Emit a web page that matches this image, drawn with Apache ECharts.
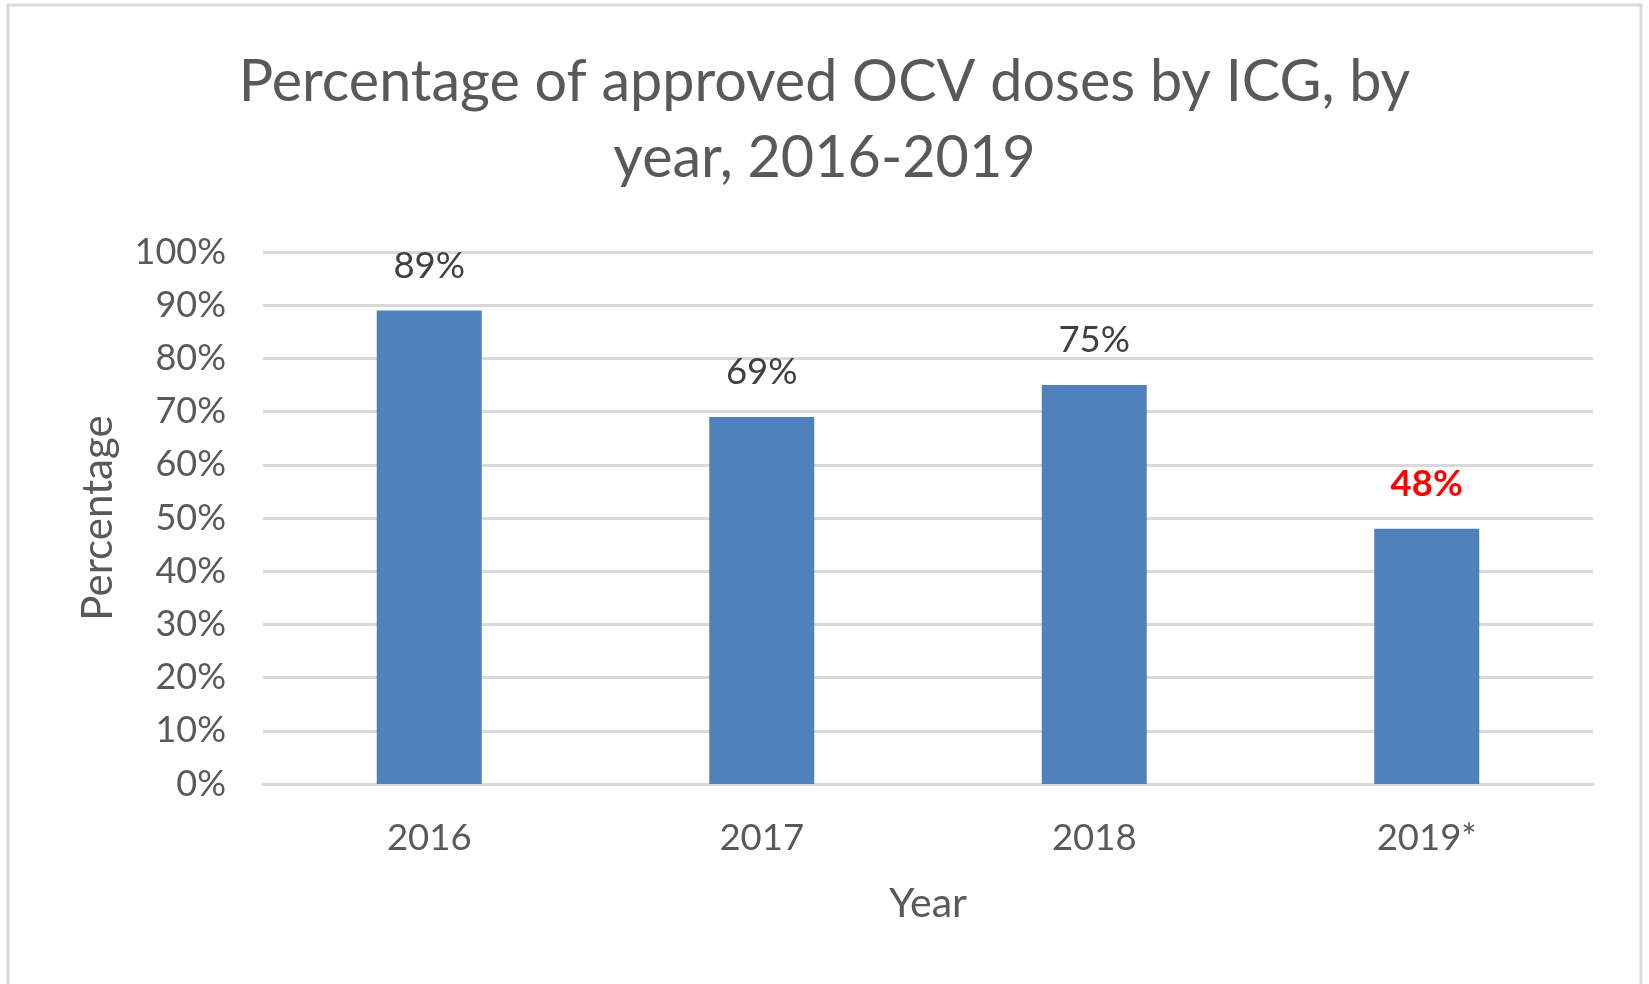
<!DOCTYPE html>
<html>
<head>
<meta charset="utf-8">
<script src="https://cdn.jsdelivr.net/npm/echarts@6/dist/echarts.min.js"></script>
<style>
  html, body { margin: 0; padding: 0; background: #fff; }
  #main { width: 1649px; height: 984px; }
</style>
</head>
<body>
<div id="main"></div>
<script>
// 数据
const years = ['2016', '2017', '2018', '2019*']
const approvedPct = [89, 69, 75, 48]
const yTicks = [0, 10, 20, 30, 40, 50, 60, 70, 80, 90, 100]
// 需要红色标注的年份
const flagged = ['2019*']

const FONT = 'Lato'
const GRAY = '#595959'

let chart = echarts.init(document.getElementById('main'), null, { renderer: 'canvas' })

let option = {
  backgroundColor: '#fff',
  animation: false,
  title: {
    text: 'Percentage of approved OCV doses by ICG, by\nyear, 2016-2019',
    left: 'center',
    top: 39,
    textStyle: {
      fontFamily: FONT,
      fontSize: 57.5,
      fontWeight: 'normal',
      color: GRAY,
      lineHeight: 76
    }
  },
  // 外框
  graphic: [{
    type: 'rect',
    shape: { x: 8, y: 5, width: 1633, height: 1000 },
    style: { fill: 'none', stroke: '#d9d9d9', lineWidth: 3 },
    silent: true
  }],
  grid: {
    left: 263,
    right: 56,
    top: 252,
    bottom: 200
  },
  xAxis: {
    type: 'category',
    data: years,
    name: 'Year',
    nameLocation: 'middle',
    nameGap: 99,
    nameTextStyle: { fontFamily: FONT, fontSize: 41, color: GRAY },
    axisLine: { lineStyle: { color: '#d9d9d9', width: 3 } },
    axisTick: { show: false },
    axisLabel: { fontFamily: FONT, fontSize: 36.5, color: GRAY, margin: 36 }
  },
  yAxis: {
    type: 'value',
    min: yTicks[0],
    max: yTicks[yTicks.length - 1],
    interval: yTicks[1] - yTicks[0],
    name: 'Percentage',
    nameLocation: 'middle',
    nameGap: 144,
    nameRotate: 90,
    nameTextStyle: { fontFamily: FONT, fontSize: 42, color: GRAY },
    axisLine: { show: false },
    axisTick: { show: false },
    splitLine: { lineStyle: { color: '#d9d9d9', width: 3 } },
    axisLabel: {
      fontFamily: FONT,
      fontSize: 36,
      color: GRAY,
      margin: 37,
      formatter: '{value}%'
    }
  },
  series: [{
    type: 'bar',
    barWidth: 105,
    itemStyle: { color: '#4f81bd' },
    label: {
      show: true,
      position: 'top',
      distance: 26,
      fontFamily: FONT,
      fontSize: 36.5,
      color: '#404040',
      formatter: '{c}%'
    },
    data: approvedPct.map((v, i) => {
      if (flagged.indexOf(years[i]) >= 0) {
        return { value: v, label: { color: '#ff0000', fontWeight: 'bold' } }
      }
      return v
    })
  }]
}

chart.setOption(option)
</script>
</body>
</html>
